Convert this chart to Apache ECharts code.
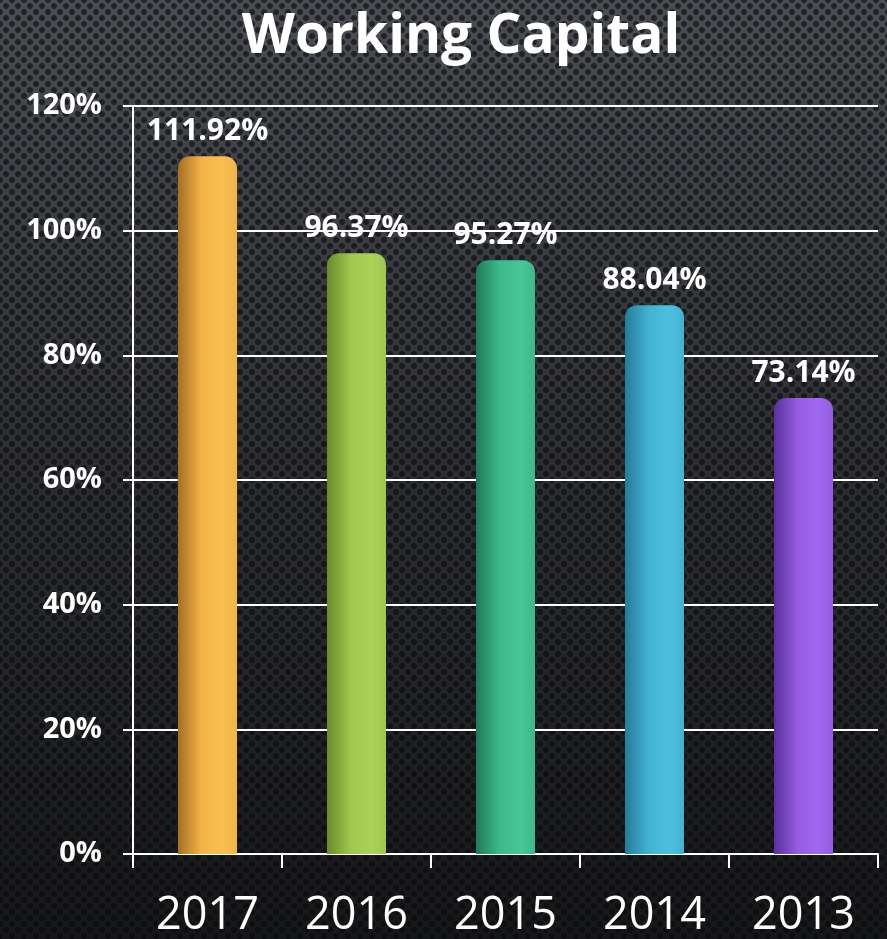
<!DOCTYPE html>
<html lang="en">

<head>
    <meta charset="UTF-8">
    <title>Working Capital</title>
    <script src="https://cdn.jsdelivr.net/npm/echarts@6/dist/echarts.min.js"></script>
    <style>
        html, body { margin: 0; padding: 0; }
        body {
            width: 887px;
            height: 939px;
            background:
                radial-gradient(circle, rgba(8,8,10,0.6) 2.5px, transparent 3.5px) 0 0 / 12px 12px,
                radial-gradient(circle, rgba(8,8,10,0.6) 2.5px, transparent 3.5px) 6px 6px / 12px 12px,
                linear-gradient(#4a4d52 0%, #2e3034 45%, #161719 100%);
        }
    </style>
</head>

<body>
    <div id="main" style="width: 887px;height:939px;"></div>

    <script>
        const years = ['2017', '2016', '2015', '2014', '2013'];
        const values = [111.92, 96.37, 95.27, 88.04, 73.14];
        const yTicks = [0, 20, 40, 60, 80, 100, 120];
        // dark edge, main, highlight
        const barColors = [
            ['#a86e22', '#f2b448', '#fbbe52'],
            ['#6a8a2a', '#a0c64e', '#acd258'],
            ['#1f7a59', '#3db98b', '#48c699'],
            ['#227d9a', '#43b2d2', '#4cbfe0'],
            ['#5a309c', '#945ce0', '#a068ee']
        ];

        const myChart = echarts.init(document.getElementById('main'));

        function barStyle(i) {
            const c = barColors[i];
            return {
                color: new echarts.graphic.LinearGradient(0, 0, 1, 0, [
                    { offset: 0, color: c[0] },
                    { offset: 0.4, color: c[1] },
                    { offset: 0.75, color: c[2] },
                    { offset: 1, color: c[1] }
                ]),
                borderRadius: [12, 12, 0, 0]
            };
        }

        const option = {
            backgroundColor: 'transparent',
            title: {
                text: 'Working Capital',
                left: 456,
                textAlign: 'center',
                top: 5,
                textStyle: {
                    color: '#fff',
                    fontSize: 55,
                    fontWeight: 'bold',
                    fontFamily: 'Open Sans'
                }
            },
            grid: {
                left: 133,
                right: 9,
                top: 106,
                bottom: 83,
                containLabel: false
            },
            xAxis: {
                type: 'category',
                data: years,
                axisLine: { lineStyle: { color: '#fff', width: 2 } },
                axisTick: { show: true, length: 14, lineStyle: { color: '#fff', width: 2 } },
                axisLabel: {
                    color: '#fff',
                    fontSize: 45,
                    fontFamily: 'Open Sans',
                    margin: 40
                }
            },
            yAxis: {
                type: 'value',
                min: 0,
                max: 120,
                interval: 20,
                axisLine: { show: true, lineStyle: { color: '#fff', width: 2 } },
                axisTick: { show: true, length: 10, lineStyle: { color: '#fff', width: 2 } },
                splitLine: { lineStyle: { color: '#fff', width: 2 } },
                axisLabel: {
                    color: '#fff',
                    fontSize: 29,
                    fontWeight: 'bold',
                    fontFamily: 'Open Sans',
                    margin: 31,
                    formatter: (v) => yTicks.includes(v) ? v + '%' : ''
                }
            },
            series: [
                {
                    type: 'bar',
                    barWidth: 59,
                    data: values.map((v, i) => ({ value: v, itemStyle: barStyle(i) })),
                    label: {
                        show: true,
                        position: 'top',
                        distance: 10,
                        color: '#fff',
                        fontSize: 30,
                        fontWeight: 'bold',
                        fontFamily: 'Open Sans',
                        formatter: (p) => p.value.toFixed(2) + '%'
                    }
                }
            ]
        };

        myChart.setOption(option);
    </script>
</body>

</html>
